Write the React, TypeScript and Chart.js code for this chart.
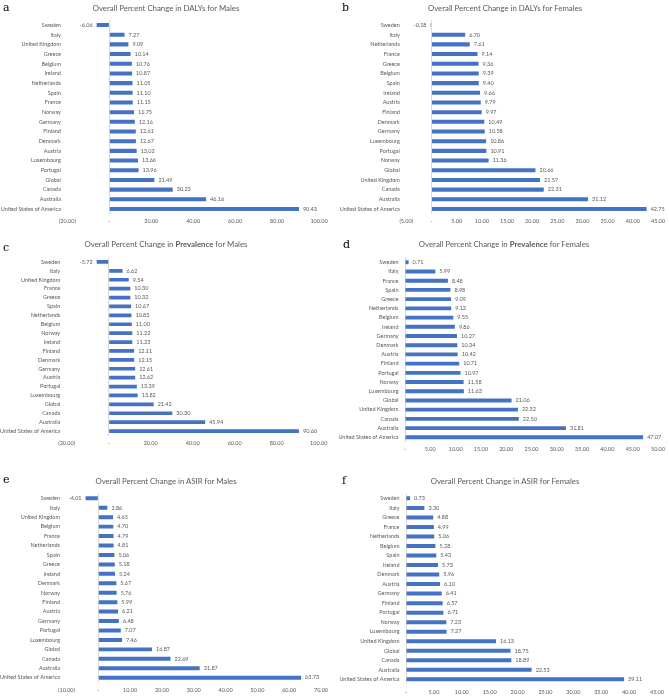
import React, { useEffect, useRef } from "react";
import { Chart, registerables } from "chart.js";
Chart.register(...registerables);

// ---------- DATA ----------
const catsA = ["Sweden", "Italy", "United Kingdom", "Greece", "Belgium", "Ireland", "Netherlands", "Spain", "France", "Norway", "Germany", "Finland", "Denmark", "Austria", "Luxembourg", "Portugal", "Global", "Canada", "Australia", "United States of America"];
const valsA = [-6.06, 7.27, 9.09, 10.14, 10.76, 10.87, 11.05, 11.1, 11.15, 11.75, 12.16, 12.61, 12.67, 13.02, 13.66, 13.96, 21.49, 30.23, 46.16, 90.43];

const catsB = ["Sweden", "Italy", "Netherlands", "France", "Greece", "Belgium", "Spain", "Ireland", "Austria", "Finland", "Denmark", "Germany", "Luxembourg", "Portugal", "Norway", "Global", "United Kingdom", "Canada", "Australia", "United States of America"];
const valsB = [-0.18, 6.7, 7.61, 9.14, 9.36, 9.39, 9.4, 9.66, 9.79, 9.97, 10.49, 10.58, 10.86, 10.91, 11.36, 20.66, 21.57, 22.31, 31.12, 42.75];

const catsC = ["Sweden", "Italy", "United Kingdom", "France", "Greece", "Spain", "Netherlands", "Belgium", "Norway", "Ireland", "Finland", "Denmark", "Germany", "Austria", "Portugal", "Luxembourg", "Global", "Canada", "Australia", "United States of America"];
const valsC = [-5.72, 6.62, 9.54, 10.3, 10.32, 10.67, 10.83, 11.0, 11.22, 11.23, 12.11, 12.15, 12.61, 12.62, 13.39, 13.82, 21.42, 30.3, 45.94, 90.6];

const catsD = ["Sweden", "Italy", "France", "Spain", "Greece", "Netherlands", "Belgium", "Ireland", "Germany", "Denmark", "Austria", "Finland", "Portugal", "Norway", "Luxembourg", "Global", "United Kingdom", "Canada", "Australia", "United States of America"];
const valsD = [0.71, 5.99, 8.48, 8.98, 9.09, 9.13, 9.55, 9.86, 10.27, 10.34, 10.42, 10.71, 10.97, 11.58, 11.63, 21.06, 22.32, 22.5, 31.81, 47.07];

const catsE = ["Sweden", "Italy", "United Kingdom", "Belgium", "France", "Netherlands", "Spain", "Greece", "Ireland", "Denmark", "Norway", "Finland", "Austria", "Germany", "Portugal", "Luxembourg", "Global", "Canada", "Australia", "United States of America"];
const valsE = [-4.01, 2.86, 4.65, 4.7, 4.79, 4.81, 5.06, 5.18, 5.24, 5.67, 5.76, 5.99, 6.21, 6.48, 7.07, 7.46, 16.87, 22.69, 31.87, 63.73];

const catsF = ["Sweden", "Italy", "Greece", "France", "Netherlands", "Belgium", "Spain", "Ireland", "Denmark", "Austria", "Germany", "Finland", "Portugal", "Norway", "Luxembourg", "United Kingdom", "Global", "Canada", "Australia", "United States of America"];
const valsF = [0.73, 3.3, 4.88, 4.99, 5.06, 5.28, 5.43, 5.73, 5.96, 6.1, 6.41, 6.57, 6.71, 7.23, 7.27, 16.13, 18.75, 18.89, 22.53, 39.11];

// axis ranges [min, max, step]
const axisA = [-20, 100, 20];
const axisB = [-5, 45, 5];
const axisC = [-20, 100, 20];
const axisD = [0, 50, 5];
const axisE = [-10, 70, 10];
const axisF = [0, 45, 5];

const titlesPre = ["Overall Percent Change in ", "Overall Percent Change in ", "Overall Percent Change in ", "Overall Percent Change in ", "Overall Percent Change in ", "Overall Percent Change in "];
const titlesKey = ["DALYs", "DALYs", "Prevalence", "Prevalence", "ASIR", "ASIR"];
const titlesPost = [" for Males", " for Females", " for Males", " for Females", " for Males", " for Females"];
const letters = ["a", "b", "c", "d", "e", "f"];

// ---------- STYLE / LAYOUT ----------
const FONT = "Lato, 'Open Sans', sans-serif";
const TXT = "#595959";
const BAR = "#4472C4";

type Layout = {
  left: number; top: number; w: number; h: number;
  yW: number; padR: number; padT: number; xH: number; tickPad: number;
  titleX: number; titleY: number; letterX: number; letterY: number; boldKey: boolean;
};

const layouts: Layout[] = [
  { left: 0, top: 0, w: 335, h: 235, yW: 67.4, padR: 16, padT: 20.2, xH: 21.2, tickPad: 4, titleX: 166, titleY: 8, letterX: 3, letterY: 8, boldKey: false },
  { left: 335, top: 0, w: 334, h: 235, yW: 71.3, padR: 9.1, padT: 20.2, xH: 21.2, tickPad: 4, titleX: 170, titleY: 8, letterX: 7, letterY: 8, boldKey: false },
  { left: 0, top: 235, w: 335, h: 235, yW: 66.7, padR: 16.3, padT: 22.5, xH: 34.5, tickPad: 4, titleX: 166, titleY: 9, letterX: 3, letterY: 13, boldKey: true },
  { left: 335, top: 235, w: 334, h: 235, yW: 70, padR: 9.8, padT: 22.7, xH: 28.1, tickPad: 4, titleX: 169, titleY: 9, letterX: 8, letterY: 10, boldKey: true },
  { left: 0, top: 465, w: 335, h: 234, yW: 66.5, padR: 14, padT: 28.6, xH: 16.6, tickPad: 4.5, titleX: 166, titleY: 16, letterX: 3, letterY: 15, boldKey: false },
  { left: 335, top: 465, w: 334, h: 234, yW: 71, padR: 9, padT: 28.6, xH: 14.9, tickPad: 5, titleX: 170, titleY: 16, letterX: 7, letterY: 16, boldKey: false },
];

const allCats = [catsA, catsB, catsC, catsD, catsE, catsF];
const allVals = [valsA, valsB, valsC, valsD, valsE, valsF];
const allAxes = [axisA, axisB, axisC, axisD, axisE, axisF];

const fmtTick = (v: number) => {
  if (Math.abs(v) < 1e-9) return "-";
  if (v < 0) return "(" + Math.abs(v).toFixed(2) + ")";
  return v.toFixed(2);
};

const valueLabels = {
  id: "valueLabels",
  afterDatasetsDraw(chart: any) {
    const ctx = chart.ctx;
    const meta = chart.getDatasetMeta(0);
    const data = chart.data.datasets[0].data as number[];
    ctx.save();
    ctx.font = `5.5px ${FONT}`;
    ctx.fillStyle = TXT;
    ctx.textBaseline = "middle";
    meta.data.forEach((el: any, i: number) => {
      const v = data[i];
      if (v >= 0) {
        ctx.textAlign = "left";
        ctx.fillText(v.toFixed(2), el.x + 4, el.y);
      } else {
        ctx.textAlign = "right";
        ctx.fillText(v.toFixed(2), el.x - 4, el.y);
      }
    });
    ctx.restore();
  },
};

function Panel({ idx }: { idx: number }) {
  const ref = useRef<HTMLCanvasElement>(null);
  const L = layouts[idx];
  useEffect(() => {
    if (!ref.current) return;
    const [min, max, step] = allAxes[idx];
    const chart = new Chart(ref.current, {
      type: "bar",
      data: {
        labels: allCats[idx],
        datasets: [
          {
            data: allVals[idx],
            backgroundColor: BAR,
            borderWidth: 0,
            barPercentage: 0.42,
            categoryPercentage: 1,
          },
        ],
      },
      options: {
        indexAxis: "y",
        responsive: false,
        animation: false,
        devicePixelRatio: 1,
        layout: { padding: { left: 0, right: L.padR, top: L.padT, bottom: 0 } },
        plugins: { legend: { display: false }, title: { display: false }, tooltip: { enabled: false } },
        scales: {
          x: {
            type: "linear",
            min,
            max,
            ticks: {
              stepSize: step,
              maxRotation: 0,
              autoSkip: false,
              padding: L.tickPad,
              color: TXT,
              font: { family: FONT, size: 5.5 },
              callback: (v: any) => fmtTick(Number(v)),
            },
            grid: {
              drawTicks: false,
              color: (c: any) => (c.tick && Math.abs(c.tick.value) < 1e-9 ? "#d9d9d9" : "rgba(0,0,0,0)"),
              lineWidth: 1,
            },
            border: { display: false },
            afterFit: (s: any) => {
              s.height = L.xH;
            },
          },
          y: {
            type: "category",
            ticks: {
              autoSkip: false,
              padding: 6.5,
              color: TXT,
              font: { family: FONT, size: 5.5 },
            },
            grid: { display: false, drawTicks: false },
            border: { display: false },
            afterFit: (s: any) => {
              s.width = L.yW;
            },
          },
        },
      },
      plugins: [valueLabels],
    });
    return () => chart.destroy();
  }, [idx]);

  return (
    <div style={{ position: "absolute", left: L.left, top: L.top, width: L.w, height: L.h }}>
      <canvas ref={ref} width={L.w} height={L.h} style={{ position: "absolute", left: 0, top: 0 }} />
      <div
        style={{
          position: "absolute",
          left: L.letterX,
          top: L.letterY,
          transform: "translateY(-50%)",
          fontFamily: "'DejaVu Serif', 'Liberation Serif', serif",
          fontSize: 11,
          lineHeight: "12px",
          color: "#000",
        }}
      >
        {letters[idx]}
      </div>
      <div
        style={{
          position: "absolute",
          left: L.titleX,
          top: L.titleY,
          transform: "translate(-50%, -50%)",
          whiteSpace: "nowrap",
          fontFamily: FONT,
          fontSize: 7.8,
          lineHeight: "10px",
          color: TXT,
        }}
      >
        {titlesPre[idx]}
        <span style={{ fontWeight: L.boldKey ? 700 : 400 }}>{titlesKey[idx]}</span>
        {titlesPost[idx]}
      </div>
    </div>
  );
}

export default function App() {
  return (
    <div style={{ position: "absolute", left: 0, top: 0, width: 669, height: 699, background: "#fff", overflow: "hidden" }}>
      {[0, 1, 2, 3, 4, 5].map((i) => (
        <Panel key={i} idx={i} />
      ))}
    </div>
  );
}
